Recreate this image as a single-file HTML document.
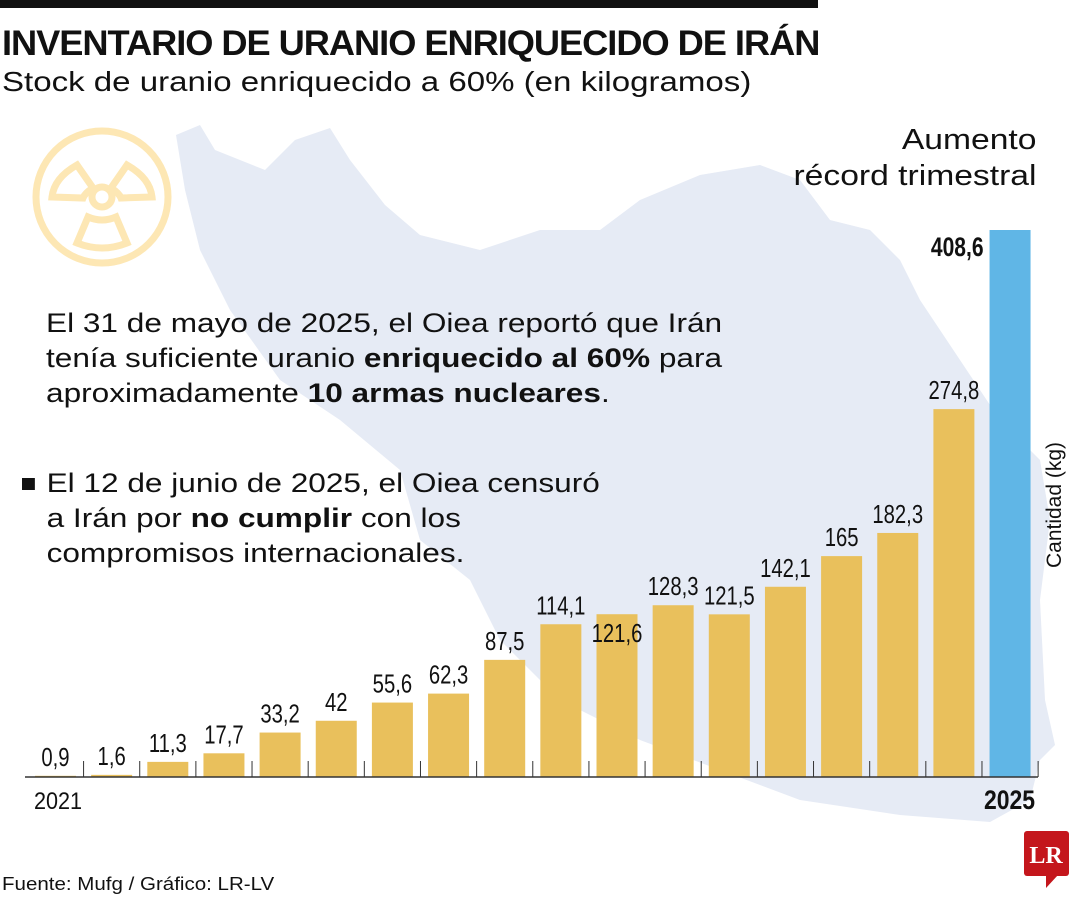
<!DOCTYPE html>
<html><head><meta charset="utf-8"><style>
body{margin:0;background:#fff;}
#c{position:relative;width:1080px;height:900px;overflow:hidden;font-family:"Liberation Sans",sans-serif;}
.t{position:absolute;white-space:nowrap;color:#111;transform-origin:left top;}
</style></head><body>
<div id="c">
<svg id="s" width="1080" height="900" style="position:absolute;left:0;top:0">
 <rect x="0" y="0" width="818" height="8" fill="#111"/>
 <polygon fill="#e6ebf5" points="176,135 200,125 215,150 265,170 295,140 330,128 350,160 385,205 420,235 480,250 540,230 600,230 640,200 700,175 760,165 800,180 830,220 870,230 900,260 920,300 960,360 1000,420 1040,460 1050,520 1040,600 1045,700 1055,745 1040,760 1030,800 990,822 900,815 800,800 720,770 640,740 560,700 500,640 470,580 420,540 400,470 340,420 280,380 230,310 200,250 185,190"/>
 <g fill="none" stroke="#fde7b4" stroke-width="7">
  <circle cx="102" cy="197" r="66"/>
  <circle cx="102" cy="197" r="10"/>
  <path d="M77,165 L93,188 Q85,193 83,198 L52,197 Q54,178 77,165Z"/>
  <path d="M127,165 L111,188 Q119,193 121,198 L152,197 Q150,178 127,165Z"/>
  <path d="M88,217 Q102,223 116,217 L127,243 Q102,253 77,243Z"/>
 </g>
 <g id="bars"></g>
 <line x1="25" y1="777" x2="1038" y2="777" stroke="#333" stroke-width="1.5"/>
 <g id="ticks"></g>
 <g>
  <rect x="1024" y="831" width="45" height="45" rx="3" fill="#c4161c"/>
  <polygon points="1046,875 1046,888 1058,875" fill="#c4161c"/>
  <text x="1046" y="863" fill="#fff" font-family="Liberation Serif,serif" font-weight="bold" font-size="24" text-anchor="middle">LR</text>
 </g>
</svg>
<div class="t" style="left:2px;top:24px;font-size:35px;font-weight:bold;letter-spacing:-1px;transform:scaleX(1.035)">INVENTARIO DE URANIO ENRIQUECIDO DE IRÁN</div>
<div class="t" style="left:2px;top:66px;font-size:28px;transform:scaleX(1.18)">Stock de uranio enriquecido a 60% (en kilogramos)</div>
<div class="t" style="right:44px;top:122px;font-size:29px;text-align:right;line-height:36px;transform-origin:right top;transform:scaleX(1.16)">Aumento<br>récord trimestral</div>
<div class="t" style="left:46px;top:306px;font-size:27px;line-height:35px;transform:scaleX(1.17)">El 31 de mayo de 2025, el Oiea reportó que Irán<br>tenía suficiente uranio <b>enriquecido al 60%</b> para<br>aproximadamente <b>10 armas nucleares</b>.</div>
<div class="t" style="left:22px;top:466px;font-size:27px;line-height:35px;transform:scaleX(1.17)"><span style="display:inline-block;width:11px;height:12px;background:#111;margin-right:10px;vertical-align:2px"></span>El 12 de junio de 2025, el Oiea censuró<br><span style="margin-left:21px">a Irán por <b>no cumplir</b> con los</span><br><span style="margin-left:21px">compromisos internacionales.</span></div>
<div class="t" style="left:1055px;top:505px;font-size:21px;transform-origin:center;transform:translate(-50%,-50%) rotate(-90deg)">Cantidad (kg)</div>
<div class="t" style="left:34px;top:788px;font-size:24px;transform:scaleX(0.9)">2021</div>
<div class="t" style="left:984px;top:785px;font-size:27px;font-weight:bold;transform:scaleX(0.85)">2025</div>
<div class="t" style="left:2px;top:874px;font-size:18px;transform:scaleX(1.14)">Fuente: Mufg / Gráfico: LR-LV</div>
</div>
<script>
const values=[0.9,1.6,11.3,17.7,33.2,42,55.6,62.3,87.5,114.1,121.6,128.3,121.5,142.1,165,182.3,274.8,408.6];
const labels=["0,9","1,6","11,3","17,7","33,2","42","55,6","62,3","87,5","114,1","121,6","128,3","121,5","142,1","165","182,3","274,8","408,6"];
const NS="http://www.w3.org/2000/svg";
const x0=35,step=56.15,bw=41,base=777,scale=547/408.6;
const xs=i=>x0+i*step, ys=v=>base-v*scale;
const g=document.getElementById('bars'),tg=document.getElementById('ticks');
values.forEach((v,i)=>{
 const last=i===values.length-1;
 const r=document.createElementNS(NS,'rect');
 r.setAttribute('x',xs(i));r.setAttribute('y',ys(v));r.setAttribute('width',bw);r.setAttribute('height',base-ys(v));
 r.setAttribute('fill',last?'#60b6e6':'#e9c05c');
 
 
 g.appendChild(r);
 const t=document.createElementNS(NS,'text');
 let ty=ys(v)-10;
 if(i===10) ty=ys(v)+28;
 const tx=last?xs(i)-6:xs(i)+bw/2;
 t.setAttribute('x',tx);t.setAttribute('y',last?ys(v)+26:ty);
 t.setAttribute('text-anchor',last?'end':'middle');
 t.setAttribute('font-size',last?'27':'26');
 if(last)t.setAttribute('font-weight','bold');
 t.setAttribute('fill','#111');
 t.setAttribute('font-family','Liberation Sans, sans-serif');
 t.setAttribute('transform',`translate(${tx*0.22},0) scale(0.78,1)`);
 t.textContent=labels[i];
 
 
 g.appendChild(t);
 const l=document.createElementNS(NS,'line');
 const kx=xs(i)+bw+(step-bw)/2;
 l.setAttribute('x1',kx);l.setAttribute('x2',kx);l.setAttribute('y1',761);l.setAttribute('y2',777);
 l.setAttribute('stroke','#333');
 
 
 tg.appendChild(l);
});
</script>
</body></html>
